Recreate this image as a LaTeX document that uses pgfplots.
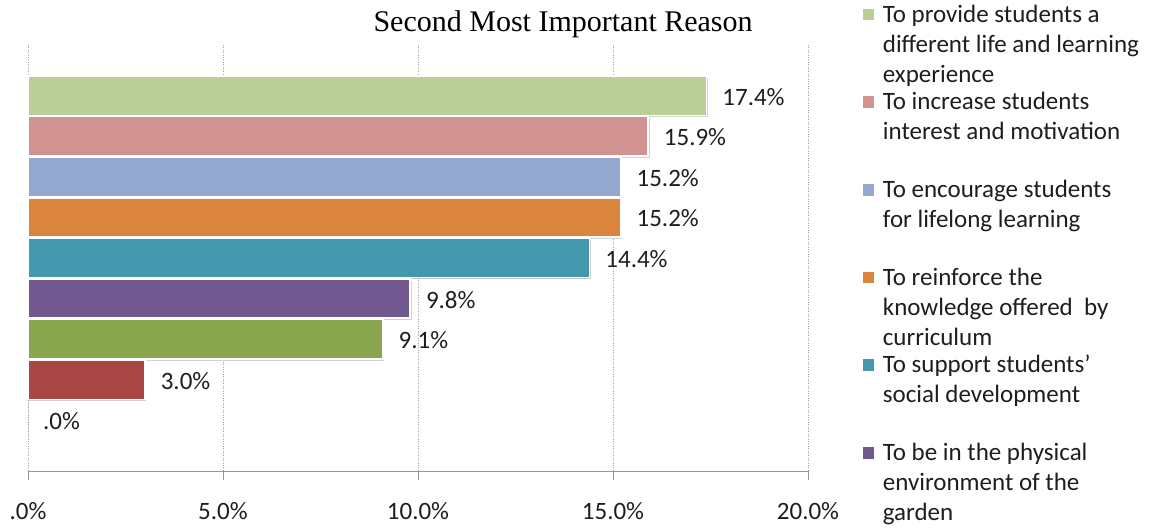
\documentclass[border=0pt]{standalone}
\usepackage{fontspec}
\setmainfont{Carlito}
\newfontfamily\titlefont{Liberation Serif}
\usepackage{pgfplots}
\pgfplotsset{compat=1.18}
\usetikzlibrary{shadows}

\definecolor{cA}{RGB}{187,206,152}
\definecolor{cB}{RGB}{209,146,146}
\definecolor{cC}{RGB}{149,169,208}
\definecolor{cD}{RGB}{219,132,61}
\definecolor{cE}{RGB}{67,152,176}
\definecolor{cF}{RGB}{113,88,143}
\definecolor{cG}{RGB}{137,165,78}
\definecolor{cH}{RGB}{170,70,67}
\definecolor{cI}{RGB}{69,114,167}
\definecolor{axisgray}{RGB}{150,150,150}
\definecolor{gridgray}{RGB}{160,160,160}
\definecolor{txt}{RGB}{30,30,30}

\newcommand{\lbl}{\fontsize{25}{30}\selectfont}
% legend entry: colour swatch + wrapped text, each entry in a fixed slot
\newcommand{\entry}[2]{\parbox[b][86pt][t]{290pt}{\lbl\noindent
  \makebox[20pt][l]{\raisebox{2pt}{\textcolor{#1}{\rule{11.5pt}{11.5pt}}}}%
  \parbox[t]{268pt}{\strut #2}}}

\pgfplotsset{
  barsty/.style={draw=white, line width=1.6pt,
    drop shadow={shadow xshift=1.4pt, shadow yshift=-1.8pt,
                 fill=black, opacity=0.22}},
}

\begin{document}
\begin{tikzpicture}
\useasboundingbox (0,0) rectangle (1156pt,528pt);
\clip (0,0) rectangle (1156pt,528pt);
\begin{axis}[
  at={(28pt,57pt)}, anchor=south west,
  scale only axis, width=780pt, height=426pt,
  xmin=0, xmax=20, ymin=-0.25, ymax=10.25, y dir=reverse,
  xbar, bar width=0.97, bar shift=0pt,
  axis x line=bottom, axis y line=none,
  x axis line style={-, draw=axisgray, line width=0.9pt},
  xtick={0,5,10,15,20},
  xticklabels={.0\%,5.0\%,10.0\%,15.0\%,20.0\%},
  ytick=\empty,
  tick align=outside, major tick length=9pt,
  xtick style={draw=axisgray, line width=0.9pt},
  xticklabel style={font=\lbl, text=txt, yshift=-19pt},
  xmajorgrids,
  major grid style={draw=gridgray, dotted, line width=0.8pt},
  clip=false,
  title={\titlefont\fontsize{30}{34}\selectfont Second Most Important Reason},
  title style={at={(0.686,1)}, anchor=base, yshift=8pt, inner sep=0pt},
  nodes near coords, point meta=explicit symbolic,
  nodes near coords align={horizontal},
  every node near coord/.append style={anchor=west, inner sep=0pt,
    xshift=15pt, yshift=-1pt, font=\lbl, text=txt},
  legend style={at={(1.0701,1)}, anchor=north west, yshift=44.3pt,
    draw=none, fill=none, inner sep=0pt, row sep=0pt, column sep=0pt,
    nodes={inner sep=0pt}, cells={anchor=north west}, font=\lbl,
    text=txt},
]
\addplot[fill=cA, barsty, forget plot] coordinates {(17.4,1) [17.4\%]};
\addplot[fill=cB, barsty, forget plot] coordinates {(15.9,2) [15.9\%]};
\addplot[fill=cC, barsty, forget plot] coordinates {(15.2,3) [15.2\%]};
\addplot[fill=cD, barsty, forget plot] coordinates {(15.2,4) [15.2\%]};
\addplot[fill=cE, barsty, forget plot] coordinates {(14.4,5) [14.4\%]};
\addplot[fill=cF, barsty, forget plot] coordinates {(9.8,6) [9.8\%]};
\addplot[fill=cG, barsty, forget plot] coordinates {(9.1,7) [9.1\%]};
\addplot[fill=cH, barsty, forget plot] coordinates {(3.0,8) [3.0\%]};
\addplot[fill=cI, draw=none, forget plot] coordinates {(0.0,9) [.0\%]};

\addlegendimage{empty legend}
\addlegendentry{\entry{cA}{To provide students a\\different life and learning\\experience}}
\addlegendimage{empty legend}
\addlegendentry{\entry{cB}{To increase students\\interest and motivation}}
\addlegendimage{empty legend}
\addlegendentry{\entry{cC}{To encourage students\\for lifelong learning}}
\addlegendimage{empty legend}
\addlegendentry{\entry{cD}{To reinforce the\\knowledge offered\ \ by\\curriculum}}
\addlegendimage{empty legend}
\addlegendentry{\entry{cE}{To support students’\\social development}}
\addlegendimage{empty legend}
\addlegendentry{\entry{cF}{To be in the physical\\environment of the\\garden}}
\end{axis}
\end{tikzpicture}
\end{document}
